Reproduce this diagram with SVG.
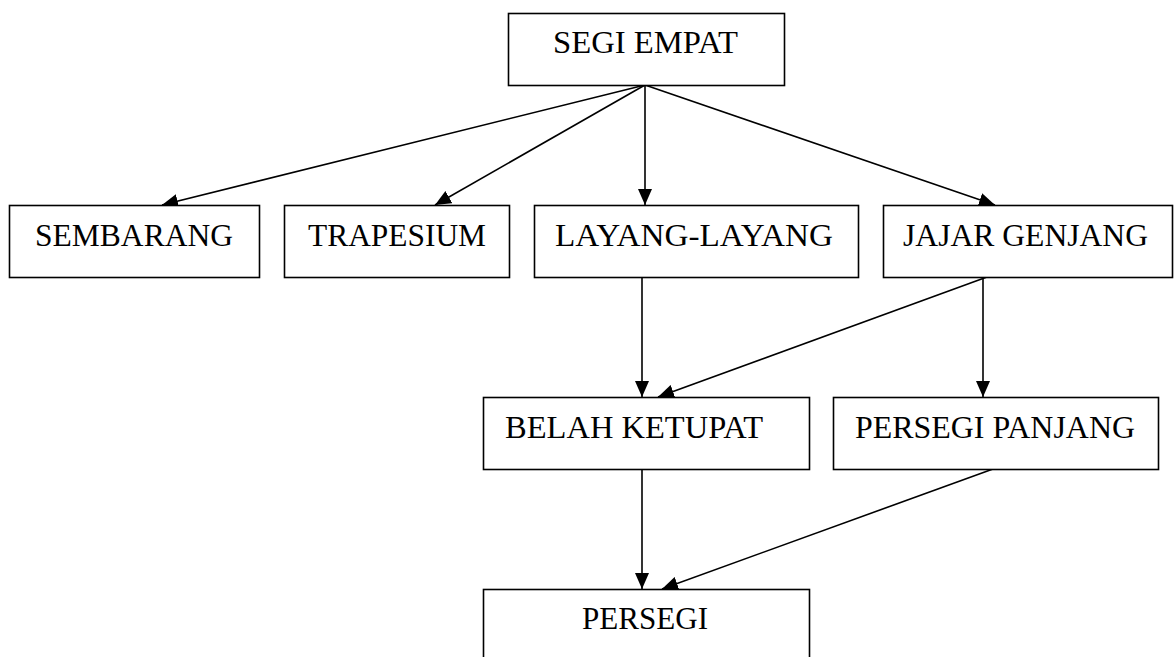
<svg xmlns="http://www.w3.org/2000/svg" width="1174" height="657" viewBox="0 0 1174 657">
<style>
.box{fill:#fff;stroke:#000;stroke-width:1.6}
.lbl{font-family:"Liberation Serif","Times New Roman",serif;font-size:32px;fill:#000}
.edge{stroke:#000;stroke-width:1.6;fill:none;marker-end:url(#ah)}
</style>
<defs>
<marker id="ah" markerUnits="userSpaceOnUse" markerWidth="16" markerHeight="14" refX="16" refY="7" orient="auto">
<path d="M0,0 L16,7 L0,14 z" fill="#000"/>
</marker>
</defs>
<rect width="1174" height="657" fill="#fff"/>
<g id="connectors">
<line class="edge" x1="645" y1="85" x2="162" y2="205"/>
<line class="edge" x1="645" y1="85" x2="435" y2="205"/>
<line class="edge" x1="645" y1="85" x2="645" y2="205"/>
<line class="edge" x1="645" y1="85" x2="995" y2="205"/>
<line class="edge" x1="642" y1="277" x2="642" y2="397"/>
<line class="edge" x1="987" y1="277" x2="658" y2="397"/>
<line class="edge" x1="983" y1="277" x2="983" y2="397"/>
<line class="edge" x1="642" y1="469" x2="642" y2="589"/>
<line class="edge" x1="993" y1="469" x2="662" y2="589"/>
</g>
<g id="segi-empat"><rect class="box" x="508.5" y="13.5" width="276" height="72"/><text class="lbl" x="553" y="53" textLength="185" lengthAdjust="spacingAndGlyphs">SEGI EMPAT</text></g>
<g id="sembarang"><rect class="box" x="9.5" y="205.5" width="250" height="72"/><text class="lbl" x="35" y="246" textLength="198" lengthAdjust="spacingAndGlyphs">SEMBARANG</text></g>
<g id="trapesium"><rect class="box" x="284.5" y="205.5" width="225" height="72"/><text class="lbl" x="308" y="246" textLength="178" lengthAdjust="spacingAndGlyphs">TRAPESIUM</text></g>
<g id="layang-layang"><rect class="box" x="534.5" y="205.5" width="324" height="72"/><text class="lbl" x="555" y="246" textLength="278" lengthAdjust="spacingAndGlyphs">LAYANG-LAYANG</text></g>
<g id="jajar-genjang"><rect class="box" x="883.5" y="205.5" width="289" height="72"/><text class="lbl" x="903" y="246" textLength="245" lengthAdjust="spacingAndGlyphs">JAJAR GENJANG</text></g>
<g id="belah-ketupat"><rect class="box" x="483.5" y="397.5" width="326" height="72"/><text class="lbl" x="505" y="438" textLength="258" lengthAdjust="spacingAndGlyphs">BELAH KETUPAT</text></g>
<g id="persegi-panjang"><rect class="box" x="833.5" y="397.5" width="325" height="72"/><text class="lbl" x="855" y="438" textLength="280" lengthAdjust="spacingAndGlyphs">PERSEGI PANJANG</text></g>
<g id="persegi"><rect class="box" x="483.5" y="589.5" width="326" height="80"/><text class="lbl" x="582" y="629" textLength="126" lengthAdjust="spacingAndGlyphs">PERSEGI</text></g>
</svg>
